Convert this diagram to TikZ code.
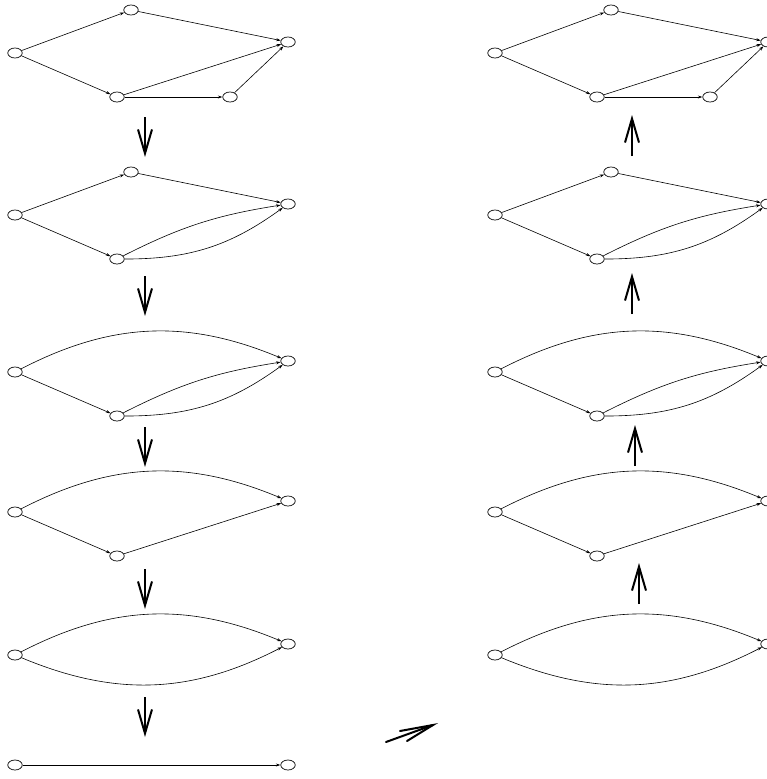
\documentclass[tikz,border=0pt]{standalone}
\usetikzlibrary{shapes.geometric,arrows.meta}
\tikzset{
  vtx/.style={ellipse,draw,line width=0.7pt,minimum width=14.5pt,minimum height=10pt,inner sep=0pt},
  edg/.style={line width=0.6pt,-{Stealth[length=4.5pt,width=3pt]}},
  bigarrow/.style={line width=2pt,-{Straight Barb[length=24pt,width=14pt]}},
}
\newcommand\GraphOne[2]{%
  \begin{scope}[shift={(#2,0)}]
    \node[vtx] (#1s) at (15,53) {};
    \node[vtx] (#1a) at (131,10) {};
    \node[vtx] (#1t) at (288,42) {};
    \node[vtx] (#1b) at (117,97) {};
    \node[vtx] (#1c) at (230,97) {};
    \draw[edg] (#1s) -- (#1a);
    \draw[edg] (#1s) -- (#1b);
    \draw[edg] (#1a) -- (#1t);
    \draw[edg] (#1b) -- (#1t);
    \draw[edg] (#1b) -- (#1c);
    \draw[edg] (#1c) -- (#1t);
  \end{scope}}
\newcommand\GraphTwo[2]{%
  \begin{scope}[shift={(#2,0)}]
    \node[vtx] (#1s) at (15,215) {};
    \node[vtx] (#1a) at (131,172) {};
    \node[vtx] (#1t) at (288,204) {};
    \node[vtx] (#1b) at (117,259) {};
    \draw[edg] (#1s) -- (#1a);
    \draw[edg] (#1s) -- (#1b);
    \draw[edg] (#1a) -- (#1t);
    \draw[edg] (#1b) to[bend left=9] (#1t);
    \draw[edg] (#1b) to[bend right=18] (#1t);
  \end{scope}}
\newcommand\GraphThree[2]{%
  \begin{scope}[shift={(#2,0)}]
    \node[vtx] (#1s) at (15,372) {};
    \node[vtx] (#1t) at (288,361) {};
    \node[vtx] (#1b) at (117,416) {};
    \draw[edg] (#1s) to[bend left=25] (#1t);
    \draw[edg] (#1s) -- (#1b);
    \draw[edg] (#1b) to[bend left=9] (#1t);
    \draw[edg] (#1b) to[bend right=18] (#1t);
  \end{scope}}
\newcommand\GraphFour[2]{%
  \begin{scope}[shift={(#2,0)}]
    \node[vtx] (#1s) at (15,512) {};
    \node[vtx] (#1t) at (288,501) {};
    \node[vtx] (#1b) at (117,556) {};
    \draw[edg] (#1s) to[bend left=25] (#1t);
    \draw[edg] (#1s) -- (#1b);
    \draw[edg] (#1b) -- (#1t);
  \end{scope}}
\newcommand\GraphFive[2]{%
  \begin{scope}[shift={(#2,0)}]
    \node[vtx] (#1s) at (15,655) {};
    \node[vtx] (#1t) at (288,644) {};
    \draw[edg] (#1s) to[bend left=25] (#1t);
    \draw[edg] (#1s) to[bend right=25] (#1t);
  \end{scope}}
\begin{document}
\begin{tikzpicture}[x=1pt,y=-1pt]
  \useasboundingbox (0,0) rectangle (767,779);
  % left column
  \GraphOne{La}{0}
  \GraphTwo{Lb}{0}
  \GraphThree{Lc}{0}
  \GraphFour{Ld}{0}
  \GraphFive{Le}{0}
  \node[vtx] (Lfs) at (15,765) {};
  \node[vtx] (Lft) at (288,765) {};
  \draw[edg] (Lfs) -- (Lft);
  % right column
  \GraphOne{Ra}{480}
  \GraphTwo{Rb}{480}
  \GraphThree{Rc}{480}
  \GraphFour{Rd}{480}
  \GraphFive{Re}{480}
  % down arrows (left)
  \coordinate (d1a) at (145,117); \coordinate (d1b) at (145,157);
  \coordinate (d2a) at (145,276); \coordinate (d2b) at (145,316);
  \coordinate (d3a) at (145,427); \coordinate (d3b) at (145,467);
  \coordinate (d4a) at (145,569); \coordinate (d4b) at (145,609);
  \coordinate (d5a) at (145,697); \coordinate (d5b) at (145,737);
  \draw[bigarrow] (d1a) -- (d1b);
  \draw[bigarrow] (d2a) -- (d2b);
  \draw[bigarrow] (d3a) -- (d3b);
  \draw[bigarrow] (d4a) -- (d4b);
  \draw[bigarrow] (d5a) -- (d5b);
  % up arrows (right)
  \coordinate (u1a) at (632,156); \coordinate (u1b) at (632,115);
  \coordinate (u2a) at (632,314); \coordinate (u2b) at (632,273);
  \coordinate (u3a) at (635,466); \coordinate (u3b) at (635,425);
  \coordinate (u4a) at (639,604); \coordinate (u4b) at (639,563);
  \draw[bigarrow] (u1a) -- (u1b);
  \draw[bigarrow] (u2a) -- (u2b);
  \draw[bigarrow] (u3a) -- (u3b);
  \draw[bigarrow] (u4a) -- (u4b);
  % diagonal arrow
  \coordinate (g0) at (386,742);
  \coordinate (g1) at (433,725);
  \coordinate (g2) at (400,731);
  \coordinate (g3) at (407,741);
  \draw[line width=2pt,line cap=round] (g0) -- (g1);
  \draw[line width=2pt,line cap=round] (g2) -- (g1) -- (g3);
\end{tikzpicture}
\end{document}
